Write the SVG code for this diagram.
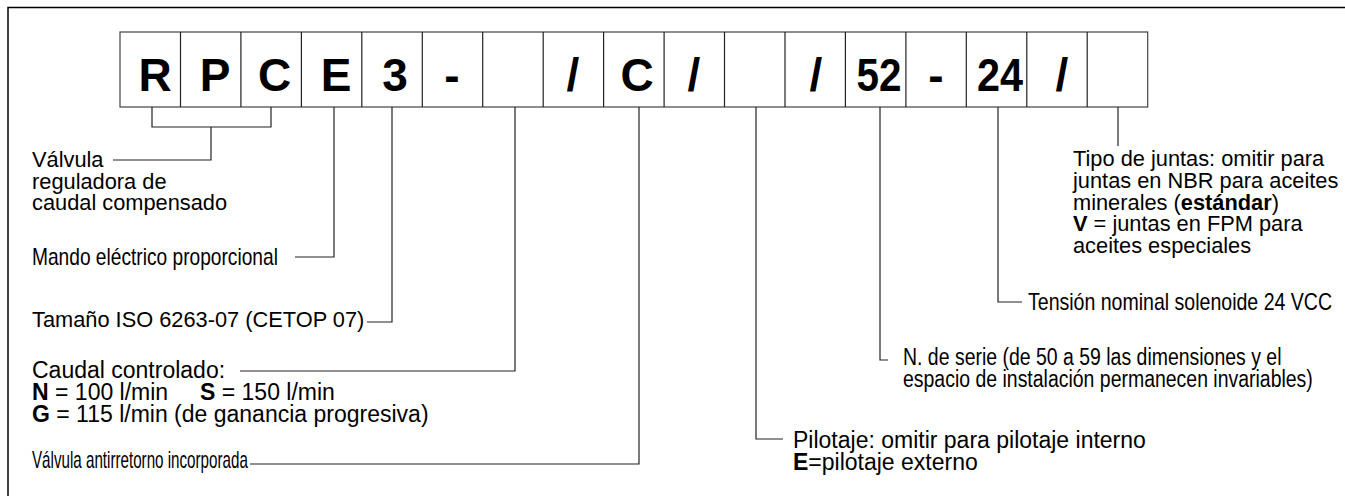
<svg xmlns="http://www.w3.org/2000/svg" width="1345" height="496" viewBox="0 0 1345 496">
<style>
.frame{fill:none;stroke:#000;stroke-width:1.5}
.box{fill:#fff;stroke:#444;stroke-width:1.2}
.div{stroke:#222;stroke-width:1.2}
.code{font-family:"Liberation Sans",Arial,sans-serif;font-weight:bold;font-size:46px;fill:#000;text-anchor:middle}
.lbl{font-family:"Liberation Sans",Arial,sans-serif;font-size:21.8px;fill:#000}
.wide{font-family:"Liberation Sans",Arial,sans-serif;font-size:23px;fill:#000}
.nar{font-family:"Liberation Sans",Arial,sans-serif;font-size:23px;fill:#000}
.b{font-weight:bold}
.conn path{fill:none;stroke:#222;stroke-width:1.2}
</style>
<rect width="1345" height="496" fill="#fff"/>
<path class="frame" d="M8,500 V7.5 H1350"/>
<g id="code">
<rect class="box" x="120" y="32" width="1027.7" height="75"/>
<path class="div" d="M180.5,32V107 M240.9,32V107 M301.4,32V107 M361.8,32V107 M422.3,32V107 M482.7,32V107 M543.2,32V107 M603.6,32V107 M664.1,32V107 M724.5,32V107 M785,32V107 M845.4,32V107 M905.9,32V107 M966.3,32V107 M1026.8,32V107 M1087.2,32V107"/>
<text class="code" x="155" y="91">R</text>
<text class="code" x="215" y="91">P</text>
<text class="code" x="274.5" y="91">C</text>
<text class="code" x="336" y="91">E</text>
<text class="code" x="395" y="91">3</text>
<text class="code" x="452" y="91">-</text>
<text class="code" x="573" y="91">/</text>
<text class="code" x="637" y="91">C</text>
<text class="code" x="694" y="91">/</text>
<text class="code" x="816" y="91">/</text>
<text class="code" x="879" y="91" textLength="45" lengthAdjust="spacingAndGlyphs">52</text>
<text class="code" x="936" y="91">-</text>
<text class="code" x="1000" y="91" textLength="46" lengthAdjust="spacingAndGlyphs">24</text>
<text class="code" x="1062" y="91">/</text>
</g>
<g class="conn" id="connectors">
<path d="M152,107 V127 H271 V107 M211,127 V160 H113"/>
<path d="M334,107 V257 H295"/>
<path d="M392,107 V322 H367"/>
<path d="M515,107 V371 H240"/>
<path d="M639,107 V464 H250"/>
<path d="M756,107 V439 H783"/>
<path d="M880,107 V360 H888"/>
<path d="M998,107 V302 H1022"/>
<path d="M1118,107 V146"/>
</g>
<g id="n-valvula">
<text class="lbl" x="32" y="167">Válvula<tspan x="32" y="189">reguladora de</tspan><tspan x="32" y="210">caudal compensado</tspan></text>
</g>
<g id="n-mando">
<text class="nar" transform="translate(32,265) scale(0.833,1)">Mando eléctrico proporcional</text>
</g>
<g id="n-tamano">
<text class="lbl" x="32" y="327">Tamaño ISO 6263-07 (CETOP 07)</text>
</g>
<g id="n-caudal">
<text class="wide" x="32" y="378">Caudal controlado:<tspan x="32" y="400" class="b">N</tspan> = 100 l/min<tspan x="200" y="400" class="b">S</tspan> = 150 l/min<tspan x="32" y="422" class="b">G</tspan> = 115 l/min (de ganancia progresiva)</text>
</g>
<g id="n-antirretorno">
<text class="nar" transform="translate(32,468) scale(0.66,1)">Válvula antirretorno incorporada</text>
</g>
<g id="n-pilotaje">
<text class="wide" x="793" y="448">Pilotaje: omitir para pilotaje interno<tspan x="793" y="470" class="b">E</tspan>=pilotaje externo</text>
</g>
<g id="n-serie">
<text class="nar" transform="translate(903,365) scale(0.846,1)">N. de serie (de 50 a 59 las dimensiones y el<tspan x="0" y="22">espacio de instalación permanecen invariables)</tspan></text>
</g>
<g id="n-tension">
<text class="nar" transform="translate(1028,310) scale(0.85,1)">Tensión nominal solenoide 24 VCC</text>
</g>
<g id="n-juntas">
<text class="lbl" x="1073" y="166">Tipo de juntas: omitir para<tspan x="1073" y="188">juntas en NBR para aceites</tspan><tspan x="1073" y="210">minerales (</tspan><tspan class="b">estándar</tspan>)<tspan x="1073" y="231" class="b">V</tspan> = juntas en FPM para<tspan x="1073" y="253">aceites especiales</tspan></text>
</g>
</svg>
